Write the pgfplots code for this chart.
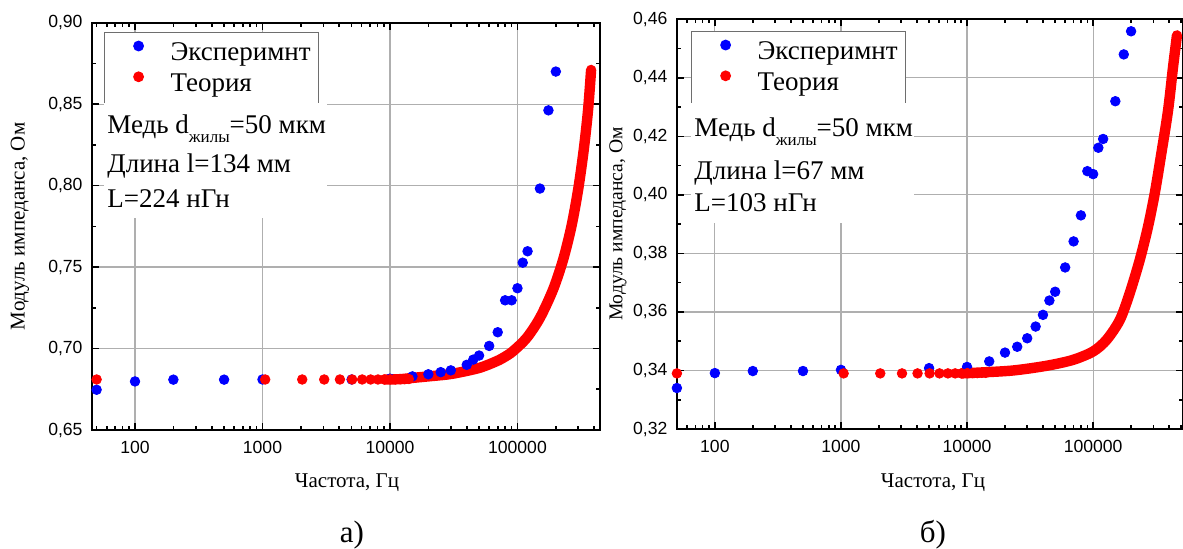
\documentclass[border=0pt]{standalone}
\usepackage{fontspec}
\setmainfont{Liberation Serif}
\newfontfamily\sansf{Liberation Sans}
\usepackage{pgfplots}
\pgfplotsset{compat=1.18}

\definecolor{gridc}{RGB}{175,175,175}
\definecolor{legc}{RGB}{110,110,110}
\definecolor{expblue}{RGB}{0,0,255}
\definecolor{theored}{RGB}{255,0,0}

\tikzset{
  expdots/.style={mark=*, mark size=2.4pt, mark options={draw=none, fill=expblue}, color=expblue},
  theodots/.style={mark=*, mark size=2.4pt, mark options={draw=none, fill=theored}, color=theored},
  theoline/.style={color=theored, line width=5.2pt, line cap=round, line join=round, smooth, tension=0.5},
}

\begin{document}
\begin{tikzpicture}
\useasboundingbox (0pt,0pt) rectangle (591.5pt,274.5pt);

% ---------- panel a ----------
\begin{axis}[
  xmode=log, scale only axis, anchor=south west,
  at={(46pt,59.5pt)}, width=254pt, height=203.65pt,
  xmin=46, xmax=4.44e5, ymin=0.65, ymax=0.90,
  axis line style={line width=0.9pt},
  tick style={black, line width=0.8pt},
  major tick length=3.5pt, minor tick length=2pt,
  xtick={100,1000,10000,100000},
  xticklabels={100,1000,10000,100000},
  minor xtick={50,60,70,80,90,200,300,400,500,600,700,800,900,2000,3000,4000,5000,6000,7000,8000,9000,20000,30000,40000,50000,60000,70000,80000,90000,200000,300000,400000,500000},
  ytick={0.65,0.70,0.75,0.80,0.85,0.90},
  minor y tick num=1,
  scaled y ticks=false,
  grid=major, major grid style={gridc, line width=0.6pt},
  ticklabel style={font=\sansf\fontsize{8.8}{10}\selectfont},
  /pgf/number format/assume math mode=true,
  yticklabel style={/pgf/number format/fixed, /pgf/number format/fixed zerofill, /pgf/number format/precision=2, /pgf/number format/use comma, xshift=-1.2pt},
  xticklabel style={yshift=-2pt},
  label style={font=\fontsize{10.5}{12}\selectfont},
  xlabel={Частота, Гц}, ylabel={Модуль импеданса, Ом},
  xlabel style={at={(axis description cs:0.502,-0.140)}, anchor=base},
  ylabel style={at={(axis description cs:-0.1417,0.5)}, anchor=center},
  legend style={at={(axis description cs:0.0236,0.9772)}, anchor=north west,
      draw=legc, line width=0.6pt, fill=white,
      font=\fontsize{13.5}{15}\selectfont,
      inner xsep=2pt, inner ysep=3pt, row sep=1pt, column sep=6pt},
  legend cell align=left,
  legend image code/.code={\path[draw=none, fill=none] (-15pt,0pt) rectangle (8pt,7pt);
      \draw[mark repeat=2, mark phase=2, #1] plot coordinates {(-8pt,3.5pt) (0pt,3.5pt) (8pt,3.5pt)};},
]
\addplot[only marks, expdots] coordinates {
(50,0.6747) (100,0.6798) (200,0.6809) (500,0.6809) (1000,0.6810) (5000,0.6810)
(10000,0.6815) (15000,0.6829) (20000,0.6842) (25000,0.6855) (30000,0.6866)
(40000,0.6900) (45000,0.6932) (50000,0.6957) (60000,0.7016) (70000,0.7100)
(80000,0.7296) (90000,0.7296) (100000,0.7370) (110000,0.7527) (120000,0.7597)
(150000,0.7982) (175000,0.8462) (200000,0.8700)};
\addlegendentry{Эксперимнт}
\addplot[only marks, theodots] coordinates {
(50,0.6810) (1050,0.6810) (2050,0.6810) (3050,0.6810) (4050,0.6810) (5050,0.6810)
(6050,0.6810) (7050,0.6810) (8050,0.6810) (9050,0.6810) (10050,0.6811)
(11050,0.6811) (12050,0.6812) (13050,0.6812) (14050,0.6813)};
\addlegendentry{Теория}
\addplot[theoline, no marks, forget plot] coordinates {
(9050,0.6810) (12000,0.6812) (15200,0.6820) (20000,0.6829) (27800,0.6840)
(35000,0.6853) (50700,0.6882) (68500,0.6922) (80000,0.6950) (92400,0.6984)
(118000,0.7065) (150000,0.7188) (190000,0.7361) (228000,0.7545) (265000,0.7750)
(299000,0.7974) (331000,0.8220) (358000,0.8465) (378000,0.8710)};
\end{axis}

% ---------- panel b ----------
\begin{axis}[
  xmode=log, scale only axis, anchor=south west,
  at={(338.45pt,60pt)}, width=253.05pt, height=204.85pt,
  xmin=50, xmax=5.16e5, ymin=0.32, ymax=0.46,
  axis line style={line width=0.9pt},
  tick style={black, line width=0.8pt},
  major tick length=3.5pt, minor tick length=2pt,
  xtick={100,1000,10000,100000},
  xticklabels={100,1000,10000,100000},
  minor xtick={50,60,70,80,90,200,300,400,500,600,700,800,900,2000,3000,4000,5000,6000,7000,8000,9000,20000,30000,40000,50000,60000,70000,80000,90000,200000,300000,400000,500000},
  ytick={0.32,0.34,0.36,0.38,0.40,0.42,0.44,0.46},
  minor y tick num=1,
  scaled y ticks=false,
  grid=major, major grid style={gridc, line width=0.6pt},
  ticklabel style={font=\sansf\fontsize{8.8}{10}\selectfont},
  /pgf/number format/assume math mode=true,
  yticklabel style={/pgf/number format/fixed, /pgf/number format/fixed zerofill, /pgf/number format/precision=2, /pgf/number format/use comma, xshift=-1.2pt},
  xticklabel style={yshift=-2pt},
  label style={font=\fontsize{10.5}{12}\selectfont},
  xlabel={Частота, Гц}, ylabel={Модуль импеданса, Ом},
  xlabel style={at={(axis description cs:0.506,-0.1416)}, anchor=base},
  ylabel style={at={(axis description cs:-0.1164,0.5)}, anchor=center, font=\fontsize{9.8}{11}\selectfont},
  legend style={at={(axis description cs:0.0279,0.9714)}, anchor=north west,
      draw=legc, line width=0.6pt, fill=white,
      font=\fontsize{13.5}{15}\selectfont,
      inner xsep=2pt, inner ysep=3pt, row sep=1pt, column sep=6pt},
  legend cell align=left,
  legend image code/.code={\path[draw=none, fill=none] (-15pt,0pt) rectangle (8pt,7pt);
      \draw[mark repeat=2, mark phase=2, #1] plot coordinates {(-8pt,3.5pt) (0pt,3.5pt) (8pt,3.5pt)};},
]
\addplot[only marks, expdots] coordinates {
(50,0.3340) (100,0.3391) (200,0.3398) (500,0.3398) (1000,0.3402) (5000,0.3408)
(10000,0.3412) (15000,0.3431) (20000,0.3461) (25000,0.3481) (30000,0.3510)
(35000,0.3550) (40000,0.3590) (45000,0.3639) (50000,0.3669) (60000,0.3752)
(70000,0.3841) (80000,0.3930) (90000,0.4081) (100000,0.4071) (110000,0.4161)
(120000,0.4191) (150000,0.4320) (175000,0.4480) (200000,0.4559)};
\addlegendentry{Эксперимнт}
\addplot[only marks, theodots] coordinates {
(50,0.3390) (1050,0.3390) (2050,0.3390) (3050,0.3390) (4050,0.3390) (5050,0.3390)
(6050,0.3390) (7050,0.3390) (8050,0.3390) (9050,0.3390) (10050,0.3391)
(11050,0.3391) (12050,0.3391) (13050,0.3392) (14050,0.3392)};
\addlegendentry{Теория}
\addplot[theoline, no marks, forget plot] coordinates {
(9050,0.3390) (12700,0.3393) (23300,0.3400) (42700,0.3416) (69000,0.3436)
(100000,0.3465) (128000,0.3505) (163000,0.3573) (195000,0.3664) (234000,0.3777)
(272000,0.3890) (308000,0.4005) (347000,0.4140) (393000,0.4289) (430000,0.4436)
(462000,0.4545)};
\end{axis}

% ---------- annotation boxes ----------
\fill[white] (52pt,165.5pt) rectangle (163.5pt,223pt);
\begin{scope}[every node/.style={anchor=base west, inner sep=0pt, font=\fontsize{13.5}{15}\selectfont}]
\node at (53.5pt,207.5pt) {Медь d\raisebox{-4.5pt}{\fontsize{8.5}{9}\selectfont жилы}=50 мкм};
\node at (53.5pt,188pt) {Длина l=134 мм};
\node at (53.5pt,170.5pt) {L=224 нГн};
\end{scope}
\fill[white] (345.5pt,163pt) rectangle (457pt,223pt);
\begin{scope}[every node/.style={anchor=base west, inner sep=0pt, font=\fontsize{13.5}{15}\selectfont}]
\node at (347pt,206pt) {Медь d\raisebox{-4.5pt}{\fontsize{8.5}{9}\selectfont жилы}=50 мкм};
\node at (347pt,184.5pt) {Длина l=67 мм};
\node at (347pt,168.5pt) {L=103 нГн};
\end{scope}

\node[anchor=base, inner sep=0pt, font=\fontsize{15.5}{17}\selectfont] at (176pt,3pt) {а)};
\node[anchor=base, inner sep=0pt, font=\fontsize{15.5}{17}\selectfont] at (466.5pt,3pt) {б)};
\end{tikzpicture}
\end{document}
